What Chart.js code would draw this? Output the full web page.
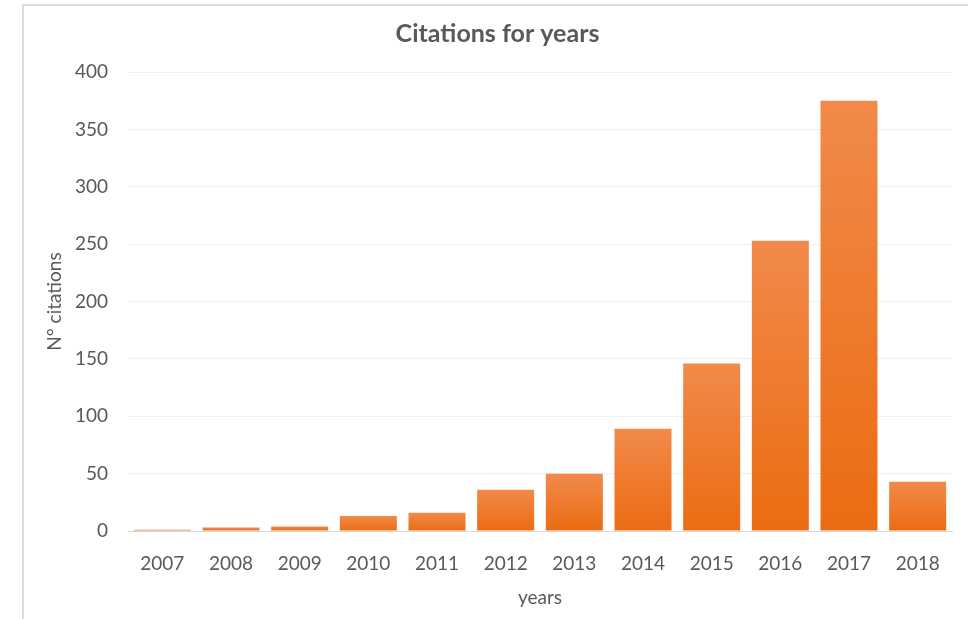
<!DOCTYPE html>
<html>
<head>
<meta charset="utf-8">
<script src="https://cdn.jsdelivr.net/npm/chart.js@4"></script>
<style>
    html, body { margin: 0; padding: 0; background: #fff; }
    #wrap { position: relative; width: 968px; height: 619px; overflow: hidden; }
    #frame {
        position: absolute; left: 22px; top: 4px; width: 960px; height: 640px;
        border-top: 2px solid #dcdcdc; border-left: 2px solid #dcdcdc;
    }
    #citations-chart { position: absolute; left: 0; top: 0; }
</style>
</head>
<body>
<div id="wrap">
    <div id="frame"></div>
    <canvas id="citations-chart" width="968" height="619"></canvas>
</div>
<script>
const years = ['2007', '2008', '2009', '2010', '2011', '2012', '2013', '2014', '2015', '2016', '2017', '2018'];
const citations = [1, 3, 4, 13, 16, 36, 50, 89, 146, 253, 375, 43];
const yTicks = [0, 50, 100, 150, 200, 250, 300, 350, 400];

const textColor = '#595959';
const fontFamily = 'Lato, "Open Sans", sans-serif';

// each bar gets its own top-to-bottom orange gradient
function barFill(context) {
    const chart = context.chart;
    const area = chart.chartArea;
    if (!area || context.parsed === undefined) return '#ED7D31';
    const yScale = chart.scales.y;
    const top = yScale.getPixelForValue(context.parsed.y);
    const bottom = yScale.getPixelForValue(0);
    if (!isFinite(top) || bottom - top < 1) return '#ED7D31';
    const grad = chart.ctx.createLinearGradient(0, top, 0, bottom);
    grad.addColorStop(0, '#F18A4A');
    grad.addColorStop(1, '#EB6C12');
    return grad;
}

const ctx = document.getElementById('citations-chart');
new Chart(ctx, {
    type: 'bar',
    data: {
        labels: years,
        datasets: [{
            label: 'Citations',
            data: citations,
            backgroundColor: barFill,
            borderWidth: 0,
            categoryPercentage: 0.83,
            barPercentage: 1.0
        }]
    },
    options: {
        responsive: false,
        animation: false,
        layout: {
            padding: { left: 43, right: 16, top: 8, bottom: 10 }
        },
        plugins: {
            legend: { display: false },
            tooltip: { enabled: false },
            title: {
                display: true,
                text: 'Citations for years',
                color: textColor,
                font: { family: fontFamily, size: 25, weight: 'bold' },
                padding: { top: 11, bottom: 23 }
            }
        },
        scales: {
            x: {
                afterFit: axis => {
                    axis.height = 78;
                },
                grid: { display: false, drawTicks: false },
                border: { color: '#d9d9d9', width: 1 },
                ticks: {
                    color: textColor,
                    font: { family: fontFamily, size: 19 },
                    padding: 21,
                    maxRotation: 0
                },
                title: {
                    display: true,
                    text: 'years',
                    color: textColor,
                    font: { family: fontFamily, size: 19 },
                    padding: { top: 0, bottom: 0 }
                }
            },
            y: {
                min: 0,
                max: 400,
                afterBuildTicks: axis => {
                    axis.ticks = yTicks.map(v => ({ value: v }));
                },
                afterFit: axis => {
                    axis.width = 85;
                },
                grid: { color: '#efefef', lineWidth: 1, drawTicks: false },
                border: { display: false },
                ticks: {
                    color: textColor,
                    font: { family: fontFamily, size: 19 },
                    padding: 20
                },
                title: {
                    display: true,
                    text: 'N° citations',
                    color: textColor,
                    font: { family: fontFamily, size: 19 },
                    padding: { top: 0, bottom: 4 }
                }
            }
        }
    }
});
</script>
</body>
</html>
